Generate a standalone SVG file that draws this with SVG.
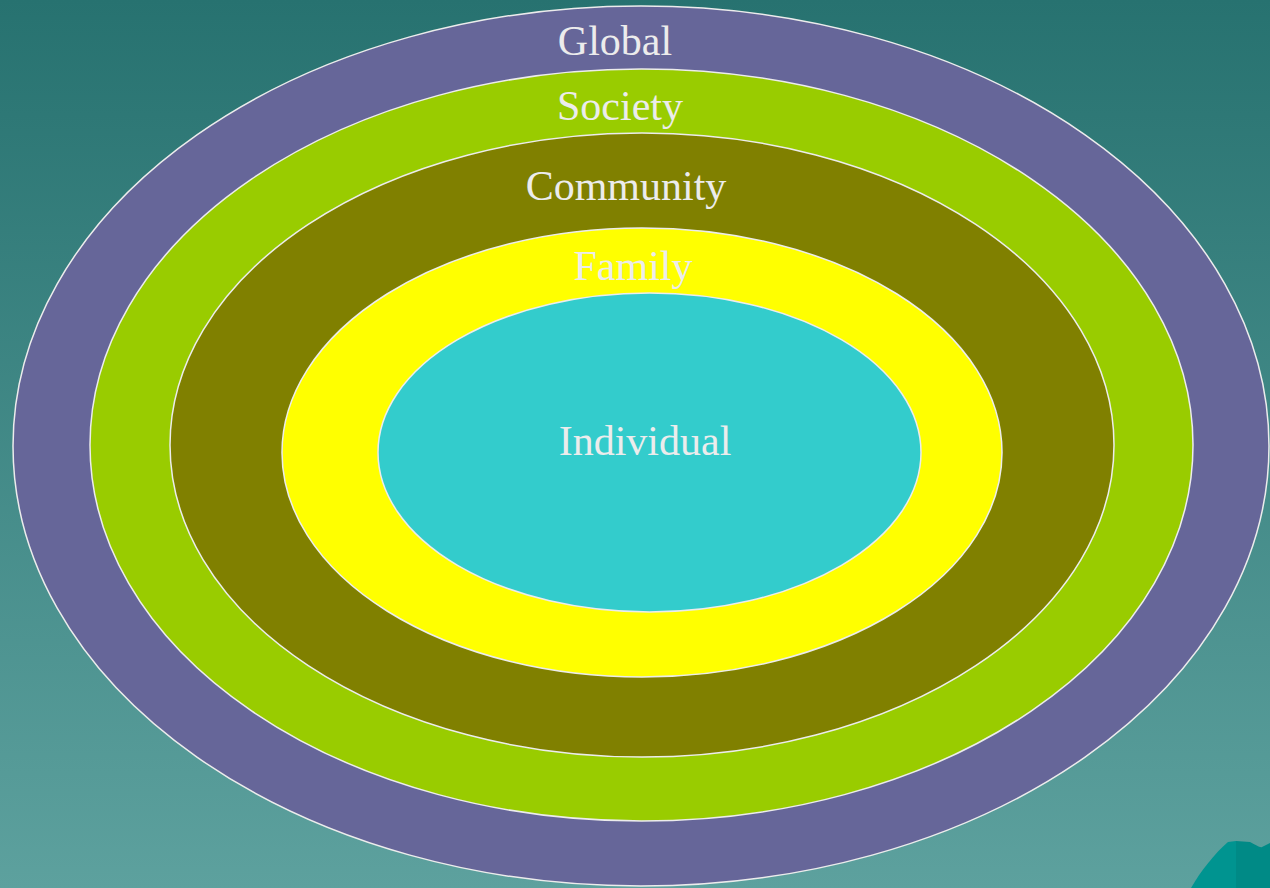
<svg xmlns="http://www.w3.org/2000/svg" width="1270" height="888" viewBox="0 0 1270 888">
<defs>
<linearGradient id="bg" x1="0" y1="0" x2="0" y2="1">
<stop offset="0" stop-color="#277270"/>
<stop offset="1" stop-color="#5da19e"/>
</linearGradient>
<style>
.ring{stroke:#ececec;stroke-width:1.5}
.lbl{font-family:"Liberation Serif","Times New Roman",Times,serif;font-size:42px;fill:#ececec;text-anchor:middle}
</style>
</defs>
<rect width="1270" height="888" fill="url(#bg)"/>
<g id="global"><ellipse class="ring" cx="641" cy="446" rx="628" ry="440" fill="#666699"/><text class="lbl" x="615" y="55">Global</text></g>
<g id="society"><ellipse class="ring" cx="641.5" cy="445" rx="551.5" ry="376" fill="#99cc00"/><text class="lbl" x="620" y="120">Society</text></g>
<g id="community"><ellipse class="ring" cx="642" cy="445" rx="472" ry="312" fill="#808000"/><text class="lbl" x="626" y="200">Community</text></g>
<g id="family"><ellipse class="ring" cx="642" cy="452.5" rx="360" ry="224.5" fill="#ffff00"/><text class="lbl" x="633" y="280">Family</text></g>
<g id="individual"><ellipse class="ring" cx="649.5" cy="452.5" rx="271.5" ry="159.5" fill="#33cccc"/><text class="lbl" x="645" y="455">Individual</text></g>
<g id="corner">
<path d="M1191 888 C1200 872 1215 853 1228 842 L1236 841 L1236 888 Z" fill="#009490"/>
<path d="M1236 841 L1250 842 C1256 845 1260 848 1262 847 L1270 843 L1270 888 L1236 888 Z" fill="#008a86"/>
</g>
<g id="connectors"></g>
</svg>
